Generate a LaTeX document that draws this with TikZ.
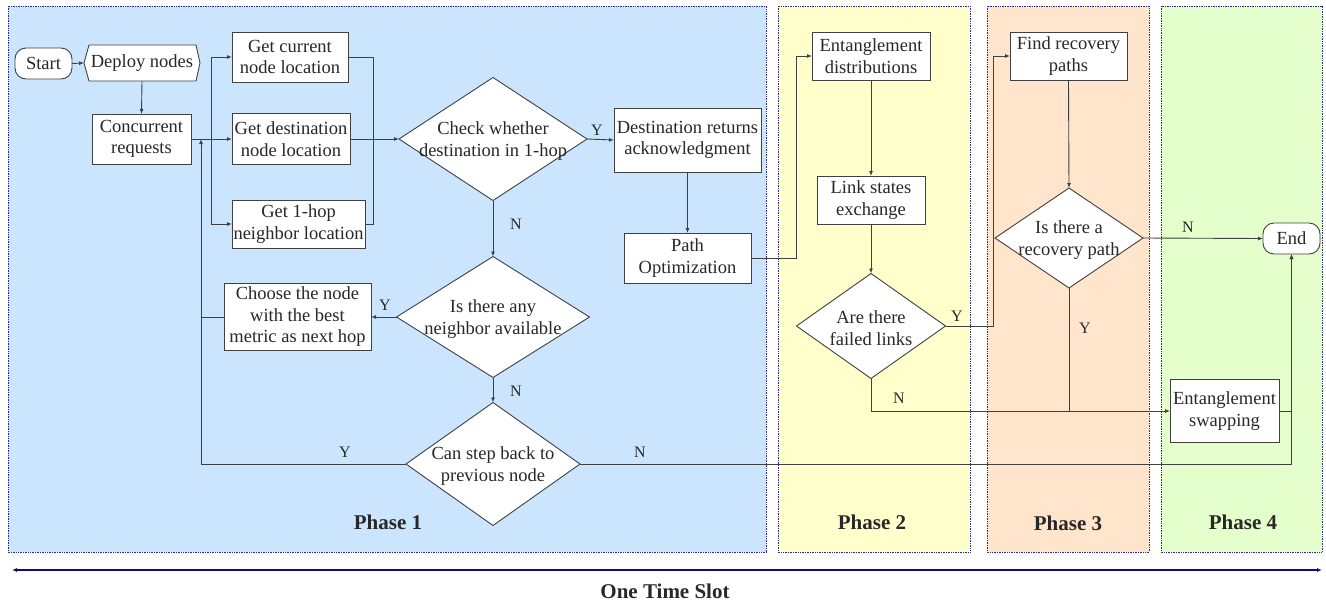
\documentclass[tikz,border=0pt]{standalone}
\usepackage{fontspec}
\setmainfont{Liberation Serif}
\newfontfamily\tnr{Liberation Serif}
\usetikzlibrary{arrows.meta,shapes.geometric,calc}
\definecolor{pone}{RGB}{204,229,255}
\definecolor{ptwo}{RGB}{255,255,204}
\definecolor{pthree}{RGB}{255,229,204}
\definecolor{pfour}{RGB}{229,255,204}
\definecolor{frame}{RGB}{40,40,150}
\definecolor{lin}{RGB}{64,64,64}
\definecolor{txt}{RGB}{40,40,40}
\definecolor{slot}{RGB}{10,10,130}
\tikzset{
  phase/.style={draw=frame, densely dotted, line width=0.7pt},
  stepbox/.style={draw=lin, fill=white, line width=0.9pt, align=center, inner sep=1pt, outer sep=0pt, text=txt},
  term/.style={stepbox, rounded corners=11pt},
  dec/.style={diamond, draw=lin, fill=white, line width=0.9pt, inner sep=0pt, outer sep=0pt},
  dectext/.style={align=center, inner sep=0pt, text=txt},
  lab/.style={font=\tnr\fontsize{16}{18}\selectfont, text=txt, inner sep=0pt},
  phlab/.style={font=\tnr\fontsize{21}{24}\selectfont\bfseries, text=txt, inner sep=0pt},
  arr/.style={draw=lin, line width=0.9pt, -{Latex[length=5pt,width=4pt]}},
  ln/.style={draw=lin, line width=0.9pt},
}
\begin{document}
\begin{tikzpicture}[x=1pt,y=-1pt,font=\tnr\fontsize{18.5}{21.5}\selectfont]
\useasboundingbox (0,0) rectangle (1326,606);
% phases
\filldraw[phase, fill=pone] (8,6) rectangle (766,552);
\filldraw[phase, fill=ptwo] (778,6) rectangle (970,552);
\filldraw[phase, fill=pthree] (987,6) rectangle (1149,552);
\filldraw[phase, fill=pfour] (1161,6) rectangle (1322,552);
\node[phlab] (ph1) at (388,522) {Phase 1};
\node[phlab] (ph2) at (872,522) {Phase 2};
\node[phlab] (ph3) at (1068,523) {Phase 3};
\node[phlab] (ph4) at (1243,522) {Phase 4};
% time slot
\coordinate (tsl) at (12,570);
\coordinate (tsr) at (1322,570);
\draw[slot, line width=1.3pt, {Latex[length=5pt,width=4pt]}-{Latex[length=5pt,width=4pt]}] (tsl) -- (tsr);
\node[phlab] (ots) at (665,591) {One Time Slot};
% nodes
\node[term, minimum width=57pt, minimum height=31pt] (start) at (43.5,63.5) {Start};
\filldraw[draw=lin, fill=white, line width=0.9pt] (89,45) -- (196,45) -- (200,63) -- (196,81) -- (89,81) -- (84,63) -- cycle;
\node[align=center, inner sep=0pt, text=txt, minimum width=116pt, minimum height=36pt] (dep) at (142,63) {Deploy nodes};
\coordinate (depW) at (84,63);
\node[stepbox, minimum width=99pt, minimum height=50pt] (conc) at (141.5,139) {Concurrent\\requests};
\node[stepbox, minimum width=116pt, minimum height=50pt] (gcur) at (290,57) {Get current\\node location};
\node[stepbox, minimum width=118pt, minimum height=51pt] (gdest) at (291,139) {Get destination\\node location};
\node[stepbox, minimum width=133pt, minimum height=48pt] (g1) at (298.5,224) {Get 1-hop\\neighbor location};
\node[dec, minimum width=188pt, minimum height=123pt] (chk) at (493,139) {};
\node[dectext] (chkt) at (493,141) {Check whether\\destination in 1-hop};
\node[stepbox, minimum width=147pt, minimum height=64pt] (ack) at (687.5,140) {Destination returns\\acknowledgment};
\node[stepbox, minimum width=127pt, minimum height=50pt] (popt) at (687.5,258) {Path\\Optimization};
\node[dec, minimum width=193pt, minimum height=121pt] (ina) at (493,317) {};
\node[dectext] (inat) at (493,319) {Is there any\\neighbor available};
\node[stepbox, minimum width=147pt, minimum height=67pt] (choose) at (297.5,317) {Choose the node\\with the best\\metric as next hop};
\node[dec, minimum width=174pt, minimum height=123pt] (csb) at (493,464) {};
\node[dectext] (csbt) at (493,466) {Can step back to\\previous node};
\node[stepbox, minimum width=118pt, minimum height=48pt] (ent) at (871,56) {Entanglement\\distributions};
\node[stepbox, minimum width=108pt, minimum height=48pt] (lse) at (871,200) {Link states\\exchange};
\node[dec, minimum width=149pt, minimum height=105pt] (fl) at (871,326) {};
\node[dectext] (flt) at (871,328) {Are there\\failed links};
\node[stepbox, minimum width=117pt, minimum height=48pt] (frp) at (1068.5,56) {Find recovery\\paths};
\node[dec, minimum width=148pt, minimum height=100pt] (rp) at (1069,238) {};
\node[dectext] (rpt) at (1069,240) {Is there a\\recovery path};
\node[term, minimum width=57pt, minimum height=31pt] (end) at (1291.5,238.5) {End};
\node[stepbox, minimum width=109pt, minimum height=63pt] (swap) at (1224.5,411) {Entanglement\\swapping};
% connectors
\coordinate (split) at (211,139);
\coordinate (join) at (373,139);
\coordinate (back) at (201,139);
\draw[arr] (start.east) -- (depW);
\draw[arr] (dep.south) -- (conc.north);
\draw[ln] (conc.east) -- (split);
\draw[arr] (split) |- (gcur.west);
\draw[arr] (split) -- (gdest.west);
\draw[arr] (split) |- (g1.west);
\draw[ln] (gcur.east) -| (join);
\draw[ln] (g1.east) -| (join);
\draw[arr] (gdest.east) -- (chk.west);
\draw[arr] (chk.east) -- (ack.west);
\draw[arr] (ack.south) -- (popt.north);
\draw[arr] (popt.east) -- ++(45,0) |- (ent.west);
\draw[arr] (ent.south) -- (lse.north);
\draw[arr] (lse.south) -- (fl.north);
\draw[arr] (fl.east) -- ++(48,0) |- (frp.west);
\draw[arr] (frp.south) -- (rp.north);
\draw[arr] (rp.east) -- (end.west);
\draw[ln] (rp.south) -- (rp.south |- swap.west);
\draw[arr] (fl.south) |- (swap.west);
\draw[arr] (swap.east) -| (end.south);
\draw[arr] (csb.east) -| (end.south);
\draw[arr] (chk.south) -- (ina.north);
\draw[arr] (ina.west) -- (choose.east);
\draw[arr] (ina.south) -- (csb.north);
\draw[ln] (choose.west) -- (choose.west -| back);
\draw[arr] (csb.west) -| (back);
% labels
\node[lab] (l1) at (597,130) {Y};
\node[lab] (l2) at (516,224) {N};
\node[lab] (l3) at (385,305) {Y};
\node[lab] (l4) at (516,391) {N};
\node[lab] (l5) at (345,452) {Y};
\node[lab] (l6) at (640,452) {N};
\node[lab] (l7) at (957,316) {Y};
\node[lab] (l8) at (899,398) {N};
\node[lab] (l9) at (1188,227) {N};
\node[lab] (l10) at (1085,328) {Y};
\end{tikzpicture}
\end{document}
